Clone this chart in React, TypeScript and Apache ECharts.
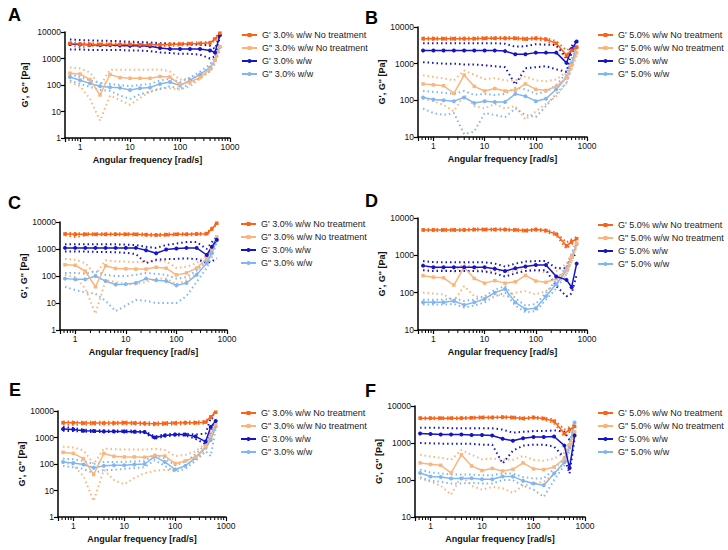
import React, { useEffect, useRef } from "react";
import * as echarts from "echarts";

// Angular frequency sampling points [rad/s]
const FREQ = [0.628, 1, 1.58, 2.51, 3.98, 6.28, 10, 15.8, 25.1, 39.8, 62.8, 100, 158, 251, 398, 501, 628];
const MINOR_TICKS = [0.6, 0.7, 0.8, 0.9, 2, 3, 4, 5, 6, 7, 8, 9, 20, 30, 40, 50, 60, 70, 80, 90, 200, 300, 400, 500, 600, 700, 800, 900];

const NAMES_30 = ["G' 3.0% w/w No treatment", 'G" 3.0% w/w No treatment', "G' 3.0% w/w", 'G" 3.0% w/w'];
const NAMES_50 = ["G' 5.0% w/w No treatment", 'G" 5.0% w/w No treatment', "G' 5.0% w/w", 'G" 5.0% w/w'];
const X_NAME = "Angular frequency [rad/s]";
const Y_NAME = "G', G'' [Pa]";

// ---------- Panel A ----------
const A_GP_NT = [3700, 3500, 3400, 3400, 3400, 3400, 3400, 3300, 3300, 3300, 3400, 3500, 3600, 3700, 3900, 5500, 9000];
const A_GP_NT_HI = [4100, 3900, 3800, 3800, 3800, 3800, 3800, 3700, 3700, 3700, 3800, 3900, 4000, 4100, 4300, 6000, 9600];
const A_GP_NT_LO = [3300, 2600, 3000, 3000, 3000, 3000, 3000, 2900, 2900, 2900, 3000, 3100, 3200, 3300, 3500, 5000, 8400];
const A_GPP_NT = [280, 260, 160, 42, 250, 190, 180, 180, 180, 210, 200, 105, 130, 190, 400, 900, 2800];
const A_GPP_NT_HI = [460, 420, 300, 90, 380, 380, 380, 380, 380, 390, 320, 160, 180, 250, 500, 1100, 3200];
const A_GPP_NT_LO = [130, 90, 30, 4.5, 40, 27, 18, 32, 58, 75, 75, 67, 88, 170, 350, 750, 2500];
const A_GP = [3500, 3400, 3300, 3200, 3200, 3100, 3000, 3000, 2900, 2500, 2300, 2300, 2300, 2300, 2000, 1700, 7500];
const A_GP_HI = [5200, 5000, 4800, 4700, 4600, 4500, 4300, 4200, 4000, 3800, 3600, 3500, 3500, 3400, 3000, 2300, 8500];
const A_GP_LO = [2200, 2200, 2100, 2100, 2100, 2100, 2000, 2000, 1900, 1700, 1600, 1500, 1500, 1400, 1000, 1200, 6500];
const A_GPP = [200, 150, 115, 90, 82, 78, 65, 75, 80, 110, 130, 95, 150, 250, 450, 900, 2700];
const A_GPP_HI = [260, 200, 150, 120, 110, 100, 90, 100, 110, 150, 170, 130, 190, 320, 600, 1200, 3200];
const A_GPP_LO = [150, 110, 85, 65, 60, 40, 30, 45, 55, 70, 90, 70, 110, 190, 320, 650, 2200];

// ---------- Panel B ----------
const B_GP_NT = [4800, 4800, 4800, 4800, 4800, 4800, 4900, 4900, 4900, 4900, 4700, 4900, 4600, 3600, 1700, 2300, 2800];
const B_GP_NT_HI = [5200, 5200, 5200, 5200, 5200, 5200, 5300, 5300, 5300, 5300, 5100, 5300, 5000, 4100, 2300, 2700, 3000];
const B_GP_NT_LO = [4500, 4500, 4500, 4500, 4500, 4500, 4600, 4600, 4600, 4600, 4400, 4600, 4200, 3100, 1300, 1900, 2500];
const B_GPP_NT = [280, 265, 250, 155, 490, 240, 180, 210, 180, 190, 280, 200, 185, 240, 420, 900, 2000];
const B_GPP_NT_HI = [480, 430, 400, 350, 650, 500, 380, 400, 350, 350, 450, 350, 330, 370, 600, 1100, 2400];
const B_GPP_NT_LO = [110, 95, 75, 50, 140, 70, 60, 80, 60, 70, 30, 50, 80, 130, 300, 700, 1700];
const B_GP = [2300, 2300, 2300, 2300, 2300, 2300, 2300, 2300, 2200, 1800, 1800, 2000, 2000, 2000, 1050, 2500, 4000];
const B_GP_HI = [3600, 3600, 3600, 3600, 3600, 3600, 3600, 3600, 3500, 2900, 3000, 3400, 3300, 3200, 1500, 3000, 4500];
const B_GP_LO = [1100, 1050, 1000, 1000, 950, 950, 900, 850, 800, 270, 750, 800, 850, 700, 600, 2000, 3500];
const B_GPP = [120, 105, 100, 95, 120, 85, 95, 90, 90, 150, 130, 95, 110, 200, 420, 1000, 2800];
const B_GPP_HI = [180, 170, 160, 150, 180, 140, 150, 140, 150, 220, 200, 150, 170, 260, 550, 1300, 3200];
const B_GPP_LO = [60, 45, 40, 45, 12, 14, 45, 40, 35, 60, 40, 35, 70, 150, 300, 800, 2400];

// ---------- Panel C ----------
const C_GP_NT = [3600, 3500, 3500, 3500, 3500, 3500, 3500, 3500, 3400, 3300, 3400, 3500, 3500, 3600, 3700, 5500, 9000];
const C_GP_NT_HI = [3900, 3900, 3800, 3800, 3800, 3800, 3800, 3800, 3700, 3600, 3700, 3800, 3800, 3900, 4000, 6000, 9500];
const C_GP_NT_LO = [3200, 2800, 3200, 3200, 3200, 3200, 3200, 3200, 3100, 3000, 3100, 3200, 3200, 3300, 3400, 5000, 8500];
const C_GPP_NT = [260, 250, 150, 40, 240, 190, 185, 180, 180, 210, 195, 110, 130, 195, 450, 1000, 2800];
const C_GPP_NT_HI = [430, 400, 300, 110, 380, 350, 340, 330, 340, 360, 350, 200, 220, 300, 600, 1200, 3000];
const C_GPP_NT_LO = [110, 90, 35, 4, 70, 60, 50, 50, 60, 80, 80, 50, 70, 120, 350, 800, 2500];
const C_GP = [1100, 1100, 1100, 1100, 1100, 1100, 1100, 1100, 900, 700, 950, 1050, 1100, 1100, 600, 1200, 2200];
const C_GP_HI = [1500, 1500, 1500, 1500, 1500, 1500, 1450, 1400, 1200, 1100, 1400, 1600, 1800, 1800, 1000, 1800, 2800];
const C_GP_LO = [800, 800, 800, 780, 780, 750, 720, 650, 300, 400, 420, 430, 450, 420, 300, 350, 450];
const C_GPP = [80, 75, 75, 100, 65, 48, 50, 55, 80, 70, 65, 45, 55, 110, 300, 700, 2100];
const C_GPP_HI = [130, 130, 120, 150, 110, 100, 100, 110, 130, 120, 110, 80, 90, 160, 400, 900, 2600];
const C_GPP_LO = [40, 30, 25, 22, 12, 5, 8, 13, 12, 10, 10, 10, 18, 60, 200, 500, 1800];

// ---------- Panel D ----------
const D_GP_NT = [4800, 4800, 4800, 4800, 4800, 4900, 4900, 4900, 4900, 4800, 4600, 4900, 4600, 3700, 1800, 2300, 2800];
const D_GP_NT_HI = [5100, 5100, 5100, 5100, 5100, 5200, 5200, 5200, 5200, 5100, 4900, 5200, 4900, 4000, 2200, 2700, 3100];
const D_GP_NT_LO = [4500, 4500, 4500, 4500, 4500, 4600, 4600, 4600, 4600, 4500, 4300, 4600, 4300, 3400, 1500, 2000, 2500];
const D_GPP_NT = [285, 260, 250, 160, 480, 240, 180, 210, 180, 195, 290, 205, 190, 235, 400, 900, 2100];
const D_GPP_NT_HI = [500, 450, 420, 350, 600, 450, 380, 400, 350, 380, 450, 380, 350, 380, 600, 1100, 2400];
const D_GPP_NT_LO = [100, 95, 90, 60, 150, 80, 75, 90, 80, 100, 110, 90, 110, 170, 300, 700, 1800];
const D_GP = [530, 480, 480, 480, 480, 480, 480, 440, 380, 450, 500, 550, 550, 270, 220, 140, 600];
const D_GP_HI = [700, 660, 650, 650, 650, 650, 650, 600, 500, 600, 680, 700, 700, 450, 450, 900, 1100];
const D_GP_LO = [400, 380, 380, 380, 380, 380, 370, 330, 270, 330, 380, 400, 400, 150, 80, 95, 300];
const D_GPP = [55, 55, 55, 60, 47, 55, 68, 100, 125, 55, 36, 38, 80, 170, 400, 900, 2000];
const D_GPP_HI = [65, 65, 65, 70, 60, 65, 80, 120, 150, 70, 45, 50, 100, 220, 500, 1100, 2400];
const D_GPP_LO = [48, 48, 48, 50, 40, 45, 55, 80, 100, 45, 30, 32, 65, 130, 320, 700, 1700];

// ---------- Panel E ----------
const E_GP_NT = [3600, 3600, 3500, 3500, 3500, 3500, 3600, 3500, 3400, 3300, 3400, 3500, 3600, 3600, 3800, 6000, 9000];
const E_GP_NT_HI = [4000, 4000, 3900, 3900, 3900, 3900, 4000, 3900, 3800, 3700, 3800, 3900, 4000, 4000, 4200, 6500, 9500];
const E_GP_NT_LO = [3100, 3000, 3100, 3100, 3100, 3100, 3200, 3100, 3000, 2900, 3000, 3100, 3200, 3200, 3400, 5500, 8500];
const E_GPP_NT = [275, 250, 160, 40, 250, 195, 185, 185, 180, 210, 200, 105, 130, 185, 450, 1200, 3000];
const E_GPP_NT_HI = [450, 420, 330, 100, 380, 360, 350, 350, 350, 380, 340, 200, 220, 300, 600, 1500, 3300];
const E_GPP_NT_LO = [120, 90, 35, 4, 60, 25, 17, 30, 45, 55, 60, 60, 80, 150, 350, 900, 2600];
const E_GP = [2100, 2000, 1800, 1750, 1700, 1700, 1700, 1650, 1600, 1000, 1200, 1300, 1300, 1100, 700, 2500, 4200];
const E_GP_HI = [2500, 2300, 2000, 1900, 1850, 1850, 1850, 1800, 1750, 1100, 1300, 1400, 1400, 1300, 1400, 5500, 5000];
const E_GP_LO = [1800, 1750, 1650, 1600, 1600, 1600, 1600, 1550, 1500, 900, 1100, 1200, 1200, 900, 550, 1500, 3500];
const E_GPP = [120, 110, 95, 72, 85, 90, 90, 95, 100, 190, 120, 62, 85, 170, 420, 800, 2600];
const E_GPP_HI = [160, 150, 130, 100, 120, 120, 120, 125, 130, 230, 160, 90, 120, 230, 550, 1200, 3000];
const E_GPP_LO = [85, 75, 65, 45, 60, 60, 65, 70, 75, 140, 85, 50, 65, 130, 300, 200, 2200];

// ---------- Panel F ----------
const F_GP_NT = [4700, 4700, 4700, 4700, 4700, 4800, 4900, 4900, 5000, 4900, 4600, 4900, 4600, 3900, 1800, 2300, 2800];
const F_GP_NT_HI = [5000, 5000, 5000, 5000, 5000, 5100, 5200, 5200, 5300, 5200, 4900, 5200, 4900, 4300, 2300, 2700, 3100];
const F_GP_NT_LO = [4400, 4400, 4400, 4400, 4400, 4500, 4600, 4600, 4700, 4600, 4300, 4600, 4300, 3500, 1500, 2000, 2500];
const F_GPP_NT = [290, 265, 250, 155, 480, 240, 180, 205, 175, 195, 290, 200, 190, 225, 380, 900, 2000];
const F_GPP_NT_HI = [480, 430, 400, 350, 650, 480, 360, 380, 350, 350, 450, 350, 330, 380, 550, 1100, 2300];
const F_GPP_NT_LO = [110, 90, 70, 40, 130, 70, 55, 65, 60, 45, 70, 80, 90, 140, 280, 700, 1800];
const F_GP = [1800, 1750, 1700, 1700, 1700, 1650, 1650, 1600, 1300, 1150, 1350, 1450, 1450, 1500, 850, 210, 1600];
const F_GP_HI = [2600, 2600, 2600, 2500, 2500, 2500, 2500, 2500, 2300, 1900, 2000, 2100, 2100, 2200, 2000, 1200, 2000];
const F_GP_LO = [1000, 980, 960, 950, 950, 950, 900, 900, 280, 620, 850, 900, 900, 800, 400, 150, 1300];
const F_GPP = [155, 125, 120, 110, 110, 112, 105, 105, 125, 125, 95, 80, 72, 150, 300, 800, 3600];
const F_GPP_HI = [190, 160, 150, 140, 140, 140, 135, 135, 150, 150, 120, 110, 110, 200, 380, 1000, 4000];
const F_GPP_LO = [120, 95, 90, 80, 80, 85, 80, 80, 100, 100, 70, 55, 35, 100, 250, 600, 3200];

const COLORS = { gpNt: "#FA6419", gppNt: "#FBB57C", gp: "#1515C4", gpp: "#80B6F2" };
const FONT = '"Liberation Sans", Arial, sans-serif';

type Trio = [number[], number[], number[]];
interface Panel {
  letter: string;
  names: string[];
  data: { gpNt: Trio; gppNt: Trio; gp: Trio; gpp: Trio };
  grid: { left: number; top: number; width: number; height: number };
  ymin: number;
  yNameGap: number;
  legend: { left: number; top: number };
  letterPos: { left: number; top: number };
}

const PANELS: Panel[] = [
  {
    letter: "A", names: NAMES_30,
    data: { gpNt: [A_GP_NT, A_GP_NT_HI, A_GP_NT_LO], gppNt: [A_GPP_NT, A_GPP_NT_HI, A_GPP_NT_LO], gp: [A_GP, A_GP_HI, A_GP_LO], gpp: [A_GPP, A_GPP_HI, A_GPP_LO] },
    grid: { left: 65, top: 32, width: 165, height: 106 }, ymin: 1, yNameGap: 36,
    legend: { left: 241, top: 29 }, letterPos: { left: 8, top: 6 },
  },
  {
    letter: "B", names: NAMES_50,
    data: { gpNt: [B_GP_NT, B_GP_NT_HI, B_GP_NT_LO], gppNt: [B_GPP_NT, B_GPP_NT_HI, B_GPP_NT_LO], gp: [B_GP, B_GP_HI, B_GP_LO], gpp: [B_GPP, B_GPP_HI, B_GPP_LO] },
    grid: { left: 418, top: 27, width: 169, height: 110 }, ymin: 10, yNameGap: 22,
    legend: { left: 597, top: 29 }, letterPos: { left: 365, top: 9 },
  },
  {
    letter: "C", names: NAMES_30,
    data: { gpNt: [C_GP_NT, C_GP_NT_HI, C_GP_NT_LO], gppNt: [C_GPP_NT, C_GPP_NT_HI, C_GPP_NT_LO], gp: [C_GP, C_GP_HI, C_GP_LO], gpp: [C_GPP, C_GPP_HI, C_GPP_LO] },
    grid: { left: 60, top: 222, width: 167, height: 108 }, ymin: 1, yNameGap: 30,
    legend: { left: 240, top: 218 }, letterPos: { left: 8, top: 194 },
  },
  {
    letter: "D", names: NAMES_50,
    data: { gpNt: [D_GP_NT, D_GP_NT_HI, D_GP_NT_LO], gppNt: [D_GPP_NT, D_GPP_NT_HI, D_GPP_NT_LO], gp: [D_GP, D_GP_HI, D_GP_LO], gpp: [D_GPP, D_GPP_HI, D_GPP_LO] },
    grid: { left: 418, top: 218, width: 169, height: 112 }, ymin: 10, yNameGap: 24,
    legend: { left: 597, top: 219 }, letterPos: { left: 365, top: 192 },
  },
  {
    letter: "E", names: NAMES_30,
    data: { gpNt: [E_GP_NT, E_GP_NT_HI, E_GP_NT_LO], gppNt: [E_GPP_NT, E_GPP_NT_HI, E_GPP_NT_LO], gp: [E_GP, E_GP_HI, E_GP_LO], gpp: [E_GPP, E_GPP_HI, E_GPP_LO] },
    grid: { left: 58, top: 411, width: 168, height: 106 }, ymin: 1, yNameGap: 30,
    legend: { left: 240, top: 407 }, letterPos: { left: 9, top: 381 },
  },
  {
    letter: "F", names: NAMES_50,
    data: { gpNt: [F_GP_NT, F_GP_NT_HI, F_GP_NT_LO], gppNt: [F_GPP_NT, F_GPP_NT_HI, F_GPP_NT_LO], gp: [F_GP, F_GP_HI, F_GP_LO], gpp: [F_GPP, F_GPP_HI, F_GPP_LO] },
    grid: { left: 415, top: 406, width: 170, height: 111 }, ymin: 10, yNameGap: 27,
    legend: { left: 597, top: 407 }, letterPos: { left: 365, top: 382 },
  },
];

const pts = (vals: number[]) => FREQ.map((f, i) => [f, vals[i]]);
const isPow10 = (v: number) => Math.abs(Math.log10(v) - Math.round(Math.log10(v))) < 1e-6;

function buildOption() {
  const grid: any[] = [];
  const xAxis: any[] = [];
  const yAxis: any[] = [];
  const series: any[] = [];
  const legend: any[] = [];
  const graphic: any[] = [];
  const keys: (keyof Panel["data"])[] = ["gpNt", "gppNt", "gp", "gpp"];

  PANELS.forEach((p, i) => {
    grid.push({ ...p.grid });
    xAxis.push({
      type: "log", logBase: 10, gridIndex: i, min: 0.5, max: 1000,
      axisLine: { show: true, onZero: false, lineStyle: { color: "#000", width: 1.5 } },
      axisTick: { show: true, length: 4, lineStyle: { color: "#000", width: 1.2 } },
      axisLabel: { fontSize: 8.5, color: "#111", margin: 4, fontFamily: FONT, formatter: (v: number) => (isPow10(v) ? String(Math.round(v)) : "") },
      splitLine: { show: false },
      name: X_NAME, nameLocation: "middle", nameGap: 17,
      nameTextStyle: { fontWeight: "bold", fontSize: 9, color: "#111", fontFamily: FONT },
    });
    yAxis.push({
      type: "log", logBase: 10, gridIndex: i, min: p.ymin, max: 10000,
      axisLine: { show: true, onZero: false, lineStyle: { color: "#000", width: 1.5 } },
      axisTick: { show: true, length: 4, lineStyle: { color: "#000", width: 1.2 } },
      axisLabel: { fontSize: 8.5, color: "#111", margin: 4, fontFamily: FONT, formatter: (v: number) => String(Math.round(v)) },
      splitLine: { show: false },
      name: Y_NAME, nameLocation: "middle", nameGap: p.yNameGap,
      nameTextStyle: { fontWeight: "bold", fontSize: 9, color: "#111", fontFamily: FONT },
    });

    // minor ticks on x axis
    series.push({
      type: "custom", name: `${p.letter}-minor`, xAxisIndex: i, yAxisIndex: i, silent: true, z: 1,
      data: MINOR_TICKS.map((v) => [v, p.ymin]),
      renderItem: (_params: any, api: any) => {
        const c = api.coord([api.value(0), api.value(1)]);
        return { type: "line", shape: { x1: c[0], y1: c[1], x2: c[0], y2: c[1] + 3 }, style: { stroke: "#000", lineWidth: 1 } };
      },
    });

    // dotted SD curves
    keys.forEach((k) => {
      const [, hi, lo] = p.data[k];
      [hi, lo].forEach((arr, j) => {
        series.push({
          type: "line", name: `${p.letter}-${k}-${j ? "lo" : "hi"}`, xAxisIndex: i, yAxisIndex: i,
          data: pts(arr), symbol: "none", silent: true, z: 2,
          lineStyle: { color: COLORS[k], width: 2, type: [1.5, 3], cap: "butt" },
        });
      });
    });

    // mean curves (draw light ones first)
    const order: (keyof Panel["data"])[] = ["gpp", "gppNt", "gp", "gpNt"];
    order.forEach((k) => {
      const idx = keys.indexOf(k);
      series.push({
        type: "line", name: p.names[idx], xAxisIndex: i, yAxisIndex: i,
        data: pts(p.data[k][0]),
        symbol: k === "gpNt" || k === "gppNt" ? "rect" : "circle",
        symbolSize: k === "gpNt" || k === "gppNt" ? 3.5 : 4, z: 3,
        lineStyle: { color: COLORS[k], width: 1.5 },
        itemStyle: { color: COLORS[k] },
      });
    });

    legend.push({
      left: p.legend.left, top: p.legend.top, orient: "vertical", padding: 0,
      itemWidth: 15, itemHeight: 5, itemGap: 1, selectedMode: false,
      data: p.names,
      textStyle: { fontSize: 9, lineHeight: 12, color: "#222", fontFamily: FONT },
    });

    graphic.push({
      type: "text", left: p.letterPos.left, top: p.letterPos.top,
      style: { text: p.letter, fill: "#000", font: `bold 18px ${FONT}` },
    });
  });

  return {
    animation: false,
    backgroundColor: "#fff",
    textStyle: { fontFamily: FONT },
    grid, xAxis, yAxis, series, legend, graphic,
  };
}

export default function App() {
  const ref = useRef<HTMLDivElement>(null);
  useEffect(() => {
    document.body.style.margin = "0";
    if (!ref.current) return;
    const chart = echarts.init(ref.current, undefined, { renderer: "svg" });
    chart.setOption(buildOption() as any);
    return () => chart.dispose();
  }, []);
  return <div ref={ref} style={{ width: 728, height: 550 }} />;
}
